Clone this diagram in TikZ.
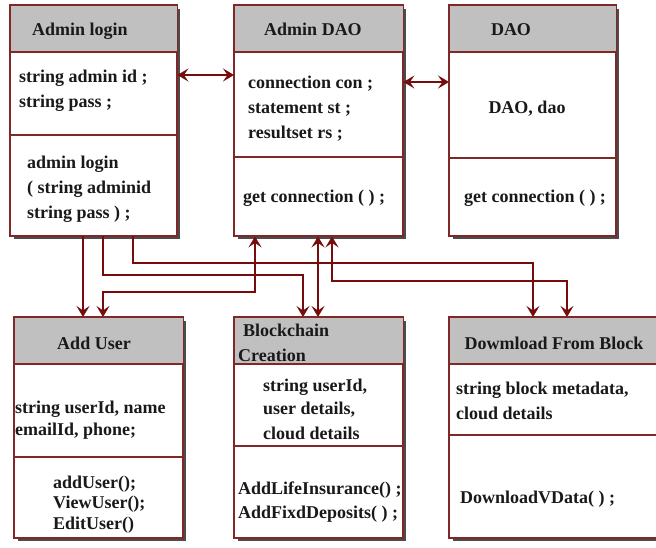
\documentclass[tikz,border=0pt]{standalone}
\usepackage{fontspec}
\setmainfont{Liberation Serif}
\usetikzlibrary{arrows.meta,shadows}
\definecolor{bordc}{RGB}{128,40,40}
\definecolor{arrc}{RGB}{118,12,12}
\definecolor{hdrc}{RGB}{192,192,192}
\definecolor{txtc}{RGB}{25,25,25}
\newcommand\boxparts[3]{%
  \fill[hdrc] (#1.north west) rectangle ([yshift=-#2pt]#1.north east);
  \draw[sepl] ([yshift=-#2pt]#1.north west) -- ([yshift=-#2pt]#1.north east);
  \draw[sepl] ([yshift=-#3pt]#1.north west) -- ([yshift=-#3pt]#1.north east);
  \draw[sepl] (#1.north west) rectangle (#1.south east);}
\begin{document}
\begin{tikzpicture}[x=1pt,y=-1pt,
  umlbox/.style={draw=bordc, line width=1.4pt, fill=white, rectangle, inner sep=0pt,
    anchor=north west,
    drop shadow={shadow xshift=3.5pt, shadow yshift=-3.5pt, fill=black!70, opacity=1}},
  sepl/.style={draw=bordc, line width=1.4pt},
  txt/.style={font=\bfseries\fontsize{18}{22}\selectfont, text=txtc, inner sep=0pt, anchor=base west},
  ctxt/.style={txt, anchor=base},
  tipx/.tip={Stealth[length=11pt,width=13pt,inset=4.5pt]},
  arr/.style={draw=arrc, line width=1.8pt, arrows={-tipx}},
  darr/.style={draw=arrc, line width=1.8pt, arrows={tipx-tipx}}
  ]
\useasboundingbox (0,0) rectangle (656,548);
\fill[white] (0,0) rectangle (656,548);

% boxes
\node[umlbox, minimum width=166pt, minimum height=230pt] (b1) at (10,5) {};
\boxparts{b1}{47}{130}
\node[umlbox, minimum width=168pt, minimum height=230pt] (b2) at (234,5) {};
\boxparts{b2}{47}{152}
\node[umlbox, minimum width=166pt, minimum height=230pt] (b3) at (449,5) {};
\boxparts{b3}{47}{153}
\node[umlbox, minimum width=168pt, minimum height=220pt] (b4) at (14,317) {};
\boxparts{b4}{47}{140}
\node[umlbox, minimum width=168pt, minimum height=220pt] (b5) at (234,317) {};
\boxparts{b5}{47}{129}
\node[umlbox, minimum width=215pt, minimum height=220pt] (b6) at (449,317) {};
\boxparts{b6}{47}{118}

% texts box 1
\node[txt] (t1h) at (32,36) {Admin login};
\node[txt] (t1a) at (19,83) {string admin id ;};
\node[txt] (t1b) at (19,108) {string pass ;};
\node[txt] (t1c) at (27,169) {admin login};
\node[txt] (t1d) at (27,194) {( string adminid};
\node[txt] (t1e) at (27,219) {string pass ) ;};
% box 2
\node[ctxt] (t2h) at (313,36) {Admin DAO};
\node[txt] (t2a) at (248,89) {connection con ;};
\node[txt] (t2b) at (248,114) {statement st ;};
\node[txt] (t2c) at (248,139) {resultset rs ;};
\node[txt] (t2d) at (243,203) {get connection ( ) ;};
% box 3
\node[ctxt] (t3h) at (511,36) {DAO};
\node[ctxt] (t3a) at (527,114) {DAO, dao};
\node[ctxt] (t3b) at (535,203) {get connection ( ) ;};
% box 4
\node[ctxt] (t4h) at (94,349) {Add User};
\node[txt] (t4a) at (15,413) {string userId, name};
\node[txt] (t4b) at (15,435) {emailId, phone;};
\node[txt] (t4c) at (53,488) {addUser();};
\node[txt] (t4d) at (53,508) {ViewUser();};
\node[txt] (t4e) at (53,529) {EditUser()};
% box 5
\node[txt] (t5h) at (243,336) {Blockchain};
\node[txt] (t5i) at (238,361) {Creation};
\node[txt] (t5a) at (263,391) {string userId,};
\node[txt] (t5b) at (263,414) {user details,};
\node[txt] (t5c) at (263,439) {cloud details};
\node[txt] (t5d) at (238,494) {AddLifeInsurance() ;};
\node[txt] (t5e) at (238,518) {AddFixdDeposits( ) ;};
% box 6
\node[ctxt] (t6h) at (554,349) {Dowmload From Block};
\node[txt] (t6a) at (456,394) {string block metadata,};
\node[txt] (t6b) at (456,419) {cloud details};
\node[txt] (t6c) at (460,503) {DownloadVData( ) ;};

% connectors
\draw[darr] (b1.east |- 0,75) -- (b2.west |- 0,75);
\draw[darr] (b2.east |- 0,82) -- (b3.west |- 0,82);
\draw[arr] (83,0 |- b1.south) -- (83,0 |- b4.north);
\draw[arr] (103,0 |- b1.south) -- (103,275) -- (303,275) -- (303,0 |- b5.north);
\draw[arr] (133,0 |- b1.south) -- (133,263) -- (533,263) -- (533,0 |- b6.north);
\draw[darr] (255,0 |- b2.south) -- (255,292) -- (103,292) -- (103,0 |- b4.north);
\draw[darr] (318,0 |- b2.south) -- (318,0 |- b5.north);
\draw[darr] (332,0 |- b2.south) -- (332,281) -- (567,281) -- (567,0 |- b6.north);
\end{tikzpicture}
\end{document}
